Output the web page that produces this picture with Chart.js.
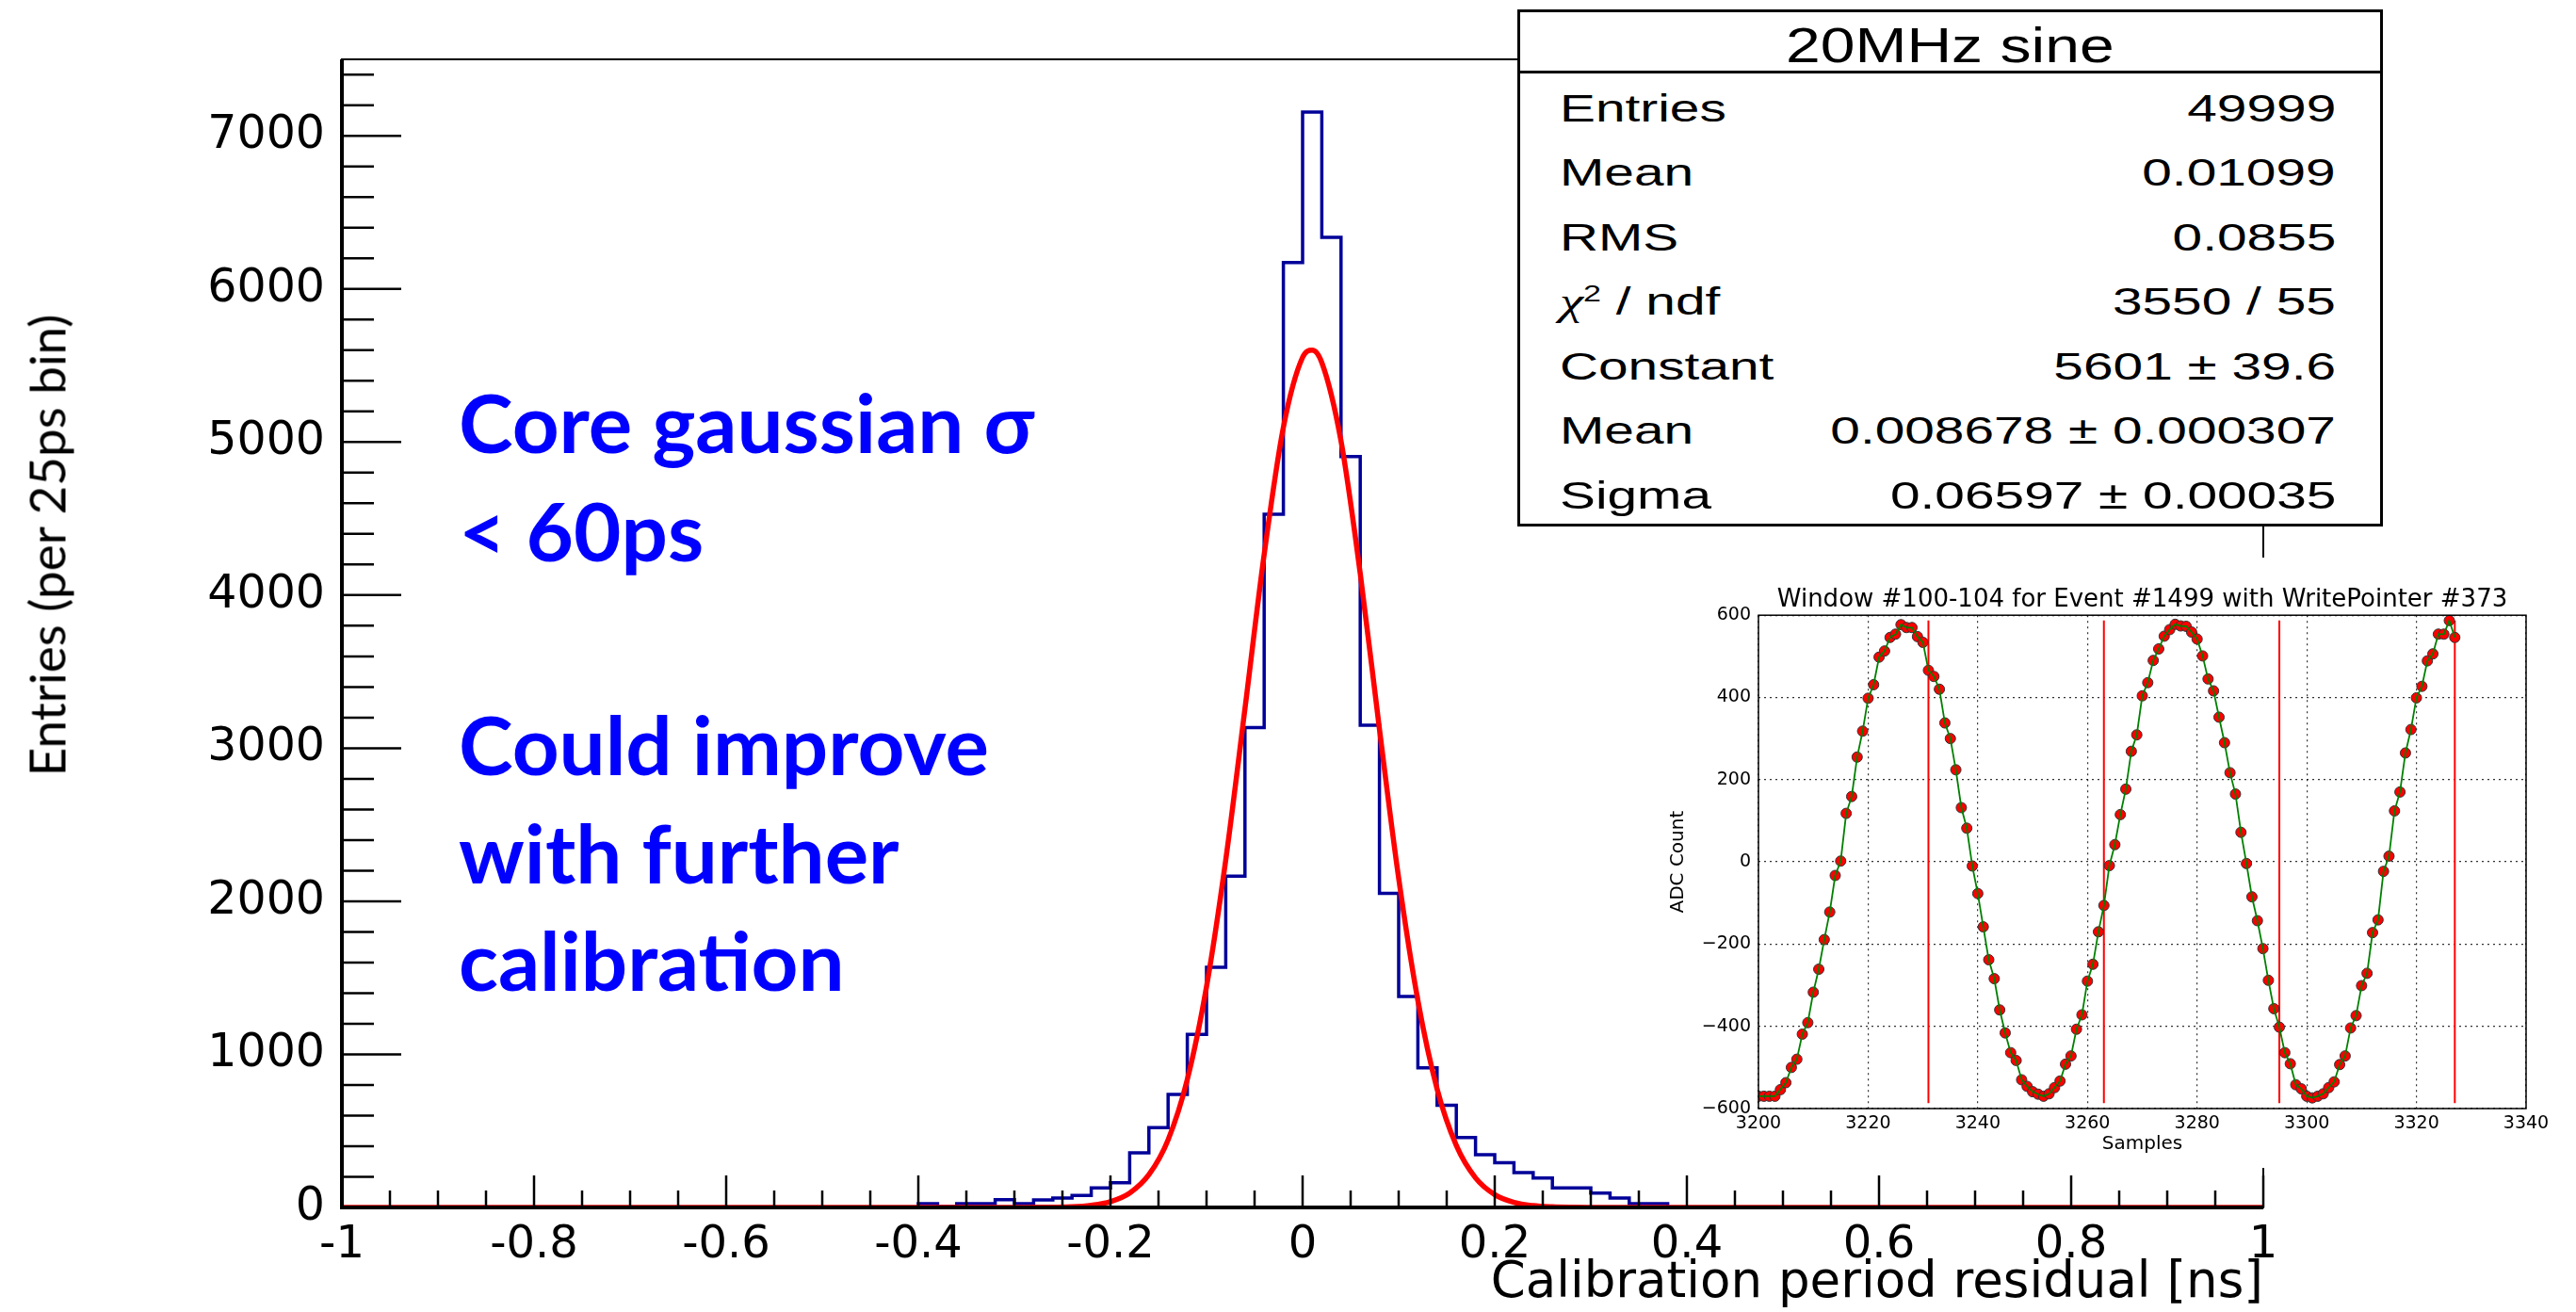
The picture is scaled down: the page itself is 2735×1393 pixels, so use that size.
<!DOCTYPE html>
<html>
<head>
<meta charset="utf-8">
<script src="https://cdn.jsdelivr.net/npm/chart.js@4.4.1/dist/chart.umd.min.js"></script>
<style>
  html, body { margin: 0; padding: 0; background: #fff; }
  #page { position: relative; width: 2735px; height: 1393px; overflow: hidden; }
  #main { position: absolute; left: 0; top: 0; }
  #inset { position: absolute; left: 1765px; top: 592px; background: #fff; }
  .ytitle { position: absolute; left: 49px; top: 579px; transform: translate(-50%, -50%) rotate(-90deg);
            font: 53px Lato; color: #000; white-space: nowrap; }
  .note { position: absolute; left: 487px; font: bold 87px Lato; color: #0000ff; line-height: 114.5px; white-space: nowrap; }
  #stats { position: absolute; left: 1611px; top: 10px; width: 913px; height: 543px; border: 3px solid #000;
           background: #fff; font-family: 'Liberation Sans', Arial, sans-serif; color: #000; }
  #stats .head { height: 62px; border-bottom: 3px solid #000; text-align: center; font-size: 52px; line-height: 70px; }
  #stats .head span { display: inline-block; transform: scaleX(1.27); }
  #stats .row { position: absolute; left: 0; right: 0; height: 68.5px; line-height: 68.5px; font-size: 40px; white-space: nowrap; }
  #stats .lab { position: absolute; left: 42px; transform: scaleX(1.42); transform-origin: 0 50%; }
  #stats .val { position: absolute; right: 47px; transform: scaleX(1.42); transform-origin: 100% 50%; }
  #stats sup { font-size: 0.6em; line-height: 0; vertical-align: 0.6em; }
  #stats i { font-family: 'Liberation Serif', serif; }
</style>
</head>
<body>
<div id="page">
  <canvas id="main" width="2735" height="1393"></canvas>
  <div class="ytitle">Entries (per 25ps bin)</div>
  <div class="note" style="top:391px">Core gaussian σ<br>&lt; 60ps</div>
  <div class="note" style="top:733px">Could improve<br>with further<br>calibration</div>
  <div id="stats"><div class="head"><span id="statsTitle"></span></div></div>
  <canvas id="inset" width="947" height="648"></canvas>
</div>
<script>
// histogram of the residuals, bins of 0.02 ns from -1 to 1
const binLow = -1;
const binWidth = 0.02;
const counts = [
  0, 0, 0, 0, 0, 0, 0, 0, 0, 0,
  0, 0, 0, 0, 0, 0, 0, 0, 0, 0,
  0, 0, 0, 0, 0, 0, 0, 0, 0, 0,
  25, 6, 25, 25, 50, 25, 49, 62, 78, 127,
  162, 357, 521, 738, 1130, 1569, 2164, 3135, 4529, 6172,
  7155, 6337, 4905, 3150, 2052, 1378, 912, 668, 457, 344,
  293, 228, 193, 127, 127, 94, 62, 25, 25, 0,
  0, 0, 0, 0, 0, 0, 0, 0, 0, 0,
  0, 0, 0, 0, 0, 0, 0, 0, 0, 0,
  0, 0, 0, 0, 0, 0, 0, 0, 0, 0
];

// gaussian fit curve
const fitX = [-1, -0.30, -0.28, -0.26, -0.24, -0.22, -0.20, -0.18, -0.16, -0.14, -0.12, -0.10, -0.08, -0.06, -0.04, -0.02,
              0.00, 0.01, 0.02, 0.04, 0.06, 0.08, 0.10, 0.12, 0.14, 0.16, 0.18, 0.20, 0.22, 0.24, 0.26, 0.28, 0.30, 1];
const fitY = [0, 0, 1, 2, 4, 14, 38, 94, 214, 442, 836, 1443, 2270, 3258, 4266, 5096,
              5553, 5600, 5519, 5006, 4141, 3125, 2151, 1352, 774, 405, 193, 84, 33, 12, 4, 1, 0, 0];

const xTicks = [-1, -0.8, -0.6, -0.4, -0.2, 0, 0.2, 0.4, 0.6, 0.8, 1];
const yTicks = [0, 1000, 2000, 3000, 4000, 5000, 6000, 7000];

const statsTitle = '20MHz sine';
const statsLabels = ['Entries', 'Mean', 'RMS', '<i>χ</i><sup>2</sup> / ndf', 'Constant', 'Mean', 'Sigma'];
const statsValues = ['49999', '0.01099', '0.0855', '3550 / 55', '5601 ± 39.6', '0.008678 ± 0.000307', '0.06597 ± 0.00035'];

// inset: one sampled 20MHz waveform
const sampleStart = 3200;
const adc = [
  -570, -570, -570, -570, -554, -537, -500, -480, -419, -391,
  -317, -261, -189, -122, -33, 2, 118, 159, 255, 318,
  398, 431, 498, 513, 546, 554, 577, 570, 570, 548,
  534, 466, 451, 420, 338, 300, 224, 132, 82, -10,
  -77, -158, -238, -284, -360, -416, -464, -483, -530, -546,
  -559, -565, -570, -564, -549, -533, -492, -472, -407, -372,
  -290, -249, -170, -106, -9, 42, 115, 177, 269, 309,
  404, 436, 490, 518, 549, 565, 578, 574, 573, 559,
  542, 501, 445, 416, 352, 290, 217, 165, 72, -4,
  -85, -143, -211, -288, -357, -402, -464, -491, -542, -552,
  -570, -574, -570, -564, -549, -535, -493, -472, -404, -374,
  -301, -271, -172, -141, -23, 14, 124, 170, 265, 322,
  399, 427, 489, 506, 554, 554, 587, 546
];
const windowEdges = [3231, 3263, 3295, 3327];
const edgeSpan = [-587, 587];
const insetXTicks = [3200, 3220, 3240, 3260, 3280, 3300, 3320, 3340];
const insetYTicks = [-600, -400, -200, 0, 200, 400, 600];

document.getElementById('statsTitle').textContent = statsTitle;
const statsBox = document.getElementById('stats');
statsLabels.forEach((lab, k) => {
  const row = document.createElement('div');
  row.className = 'row';
  row.style.top = (67.5 + 68.5 * k) + 'px';
  row.innerHTML = '<span class="lab">' + lab + '</span><span class="val">' + statsValues[k] + '</span>';
  statsBox.appendChild(row);
});

const histPoints = counts.map((c, i) => ({x: binLow + i * binWidth, y: c}));
histPoints.push({x: binLow + counts.length * binWidth, y: counts[counts.length - 1]});
const fitPoints = fitX.map((x, i) => ({x: x, y: fitY[i]}));

const useTicks = list => s => { s.ticks = list.map(v => ({value: v})); };

// ROOT style frame: box, heavy axes and ticks drawn inside
const rootFrame = {
  id: 'rootFrame',
  afterDatasetsDraw(chart) {
    const {ctx, chartArea: a, scales: {x, y}} = chart;
    const seg = (x1, y1, x2, y2) => { ctx.beginPath(); ctx.moveTo(x1, y1); ctx.lineTo(x2, y2); ctx.stroke(); };
    ctx.save();
    ctx.strokeStyle = '#000';
    ctx.lineWidth = 2;
    ctx.strokeRect(a.left, a.top, a.right - a.left, a.bottom - a.top);
    ctx.lineWidth = 2.5;
    for (let v = 0; v <= y.max; v += 200) {
      const py = y.getPixelForValue(v);
      seg(a.left, py, a.left + (v % 1000 === 0 ? 63 : 34), py);
    }
    for (let k = 0; k <= 40; k++) {
      const px = x.getPixelForValue(-1 + k * 0.05);
      seg(px, a.bottom, px, a.bottom - (k % 4 === 0 ? 34 : 18));
    }
    ctx.lineWidth = 4;
    seg(a.left, a.top, a.left, a.bottom + 2);
    seg(a.left - 2, a.bottom, a.right, a.bottom);
    ctx.restore();
  }
};

new Chart(document.getElementById('main'), {
  type: 'line',
  data: {
    datasets: [
      {label: 'fit', data: fitPoints, borderColor: '#ff0000', borderWidth: 5.5, pointRadius: 0,
       cubicInterpolationMode: 'monotone', fill: false},
      {label: 'hist', data: histPoints, borderColor: '#000099', borderWidth: 3.5, pointRadius: 0,
       stepped: true, fill: false}
    ]
  },
  options: {
    responsive: false,
    animation: false,
    devicePixelRatio: 1,
    layout: {padding: {left: 0, right: 332, top: 63, bottom: 0}},
    plugins: {legend: {display: false}, tooltip: {enabled: false}},
    scales: {
      x: {
        type: 'linear', min: -1, max: 1,
        grid: {display: false}, border: {display: false},
        afterBuildTicks: useTicks(xTicks),
        ticks: {maxRotation: 0, autoSkip: false, padding: 4, color: '#000',
                font: {family: 'DejaVu Sans', size: 48}, callback: v => String(v)},
        title: {display: true, text: 'Calibration period residual [ns]', align: 'end', color: '#000',
                font: {family: 'DejaVu Sans', size: 53, lineHeight: 1}, padding: {top: 0, bottom: 3}},
        afterFit: s => { s.height = 111; }
      },
      y: {
        type: 'linear', min: 0, max: 7500,
        grid: {display: false}, border: {display: false},
        afterBuildTicks: useTicks(yTicks),
        ticks: {autoSkip: false, padding: 10, color: '#000', font: {family: 'DejaVu Sans', size: 49},
                callback: v => String(v)},
        afterFit: s => { s.width = 363; }
      }
    }
  },
  plugins: [rootFrame]
});

// inset waveform
const wavePoints = adc.map((v, i) => ({x: sampleStart + i, y: v}));
const edgeSets = windowEdges.map(e => ({
  data: [{x: e, y: edgeSpan[0]}, {x: e, y: edgeSpan[1]}],
  borderColor: '#ff0000', borderWidth: 2, pointRadius: 0
}));

const boxFrame = {
  id: 'boxFrame',
  afterDraw(chart) {
    const {ctx, chartArea: a} = chart;
    ctx.save();
    ctx.strokeStyle = '#000';
    ctx.lineWidth = 1.5;
    ctx.strokeRect(a.left, a.top, a.right - a.left, a.bottom - a.top);
    ctx.restore();
  }
};

const dotted = {color: 'rgba(0,0,0,0.8)', lineWidth: 1.2, drawTicks: false};

new Chart(document.getElementById('inset'), {
  type: 'line',
  data: {
    datasets: [
      {data: wavePoints, borderColor: '#008000', borderWidth: 1.8, pointRadius: 0},
      {data: wavePoints, showLine: false, pointRadius: 5.5, pointBackgroundColor: '#ff0000',
       pointBorderColor: '#333', pointBorderWidth: 1}
    ].concat(edgeSets)
  },
  options: {
    responsive: false,
    animation: false,
    devicePixelRatio: 1,
    layout: {padding: {left: 0, right: 30, top: 0, bottom: 0}},
    plugins: {
      legend: {display: false}, tooltip: {enabled: false},
      title: {display: true, fullSize: false, text: 'Window #100-104 for Event #1499 with WritePointer #373',
              color: '#000', font: {family: 'DejaVu Sans', size: 26, weight: 'normal'}, padding: {top: 30, bottom: 0}}
    },
    scales: {
      x: {
        type: 'linear', min: 3200, max: 3340,
        grid: dotted, border: {display: false, dash: [2, 4]},
        afterBuildTicks: useTicks(insetXTicks),
        ticks: {maxRotation: 0, autoSkip: false, padding: 5, color: '#000',
                font: {family: 'DejaVu Sans', size: 19}, callback: v => String(v)},
        title: {display: true, text: 'Samples', color: '#000', font: {family: 'DejaVu Sans', size: 20},
                padding: {top: 0, bottom: 13}},
        afterFit: s => { s.height = 63; }
      },
      y: {
        type: 'linear', min: -600, max: 600,
        grid: dotted, border: {display: false, dash: [2, 4]},
        afterBuildTicks: useTicks(insetYTicks),
        ticks: {autoSkip: false, padding: 8, color: '#000', font: {family: 'DejaVu Sans', size: 19},
                callback: v => (v < 0 ? '\u2212' + Math.abs(v) : String(v))},
        title: {display: true, text: 'ADC Count', color: '#000', font: {family: 'DejaVu Sans', size: 20},
                padding: {top: 5, bottom: 0}},
        afterFit: s => { s.width = 102; }
      }
    }
  },
  plugins: [boxFrame]
});
</script>
</body>
</html>
